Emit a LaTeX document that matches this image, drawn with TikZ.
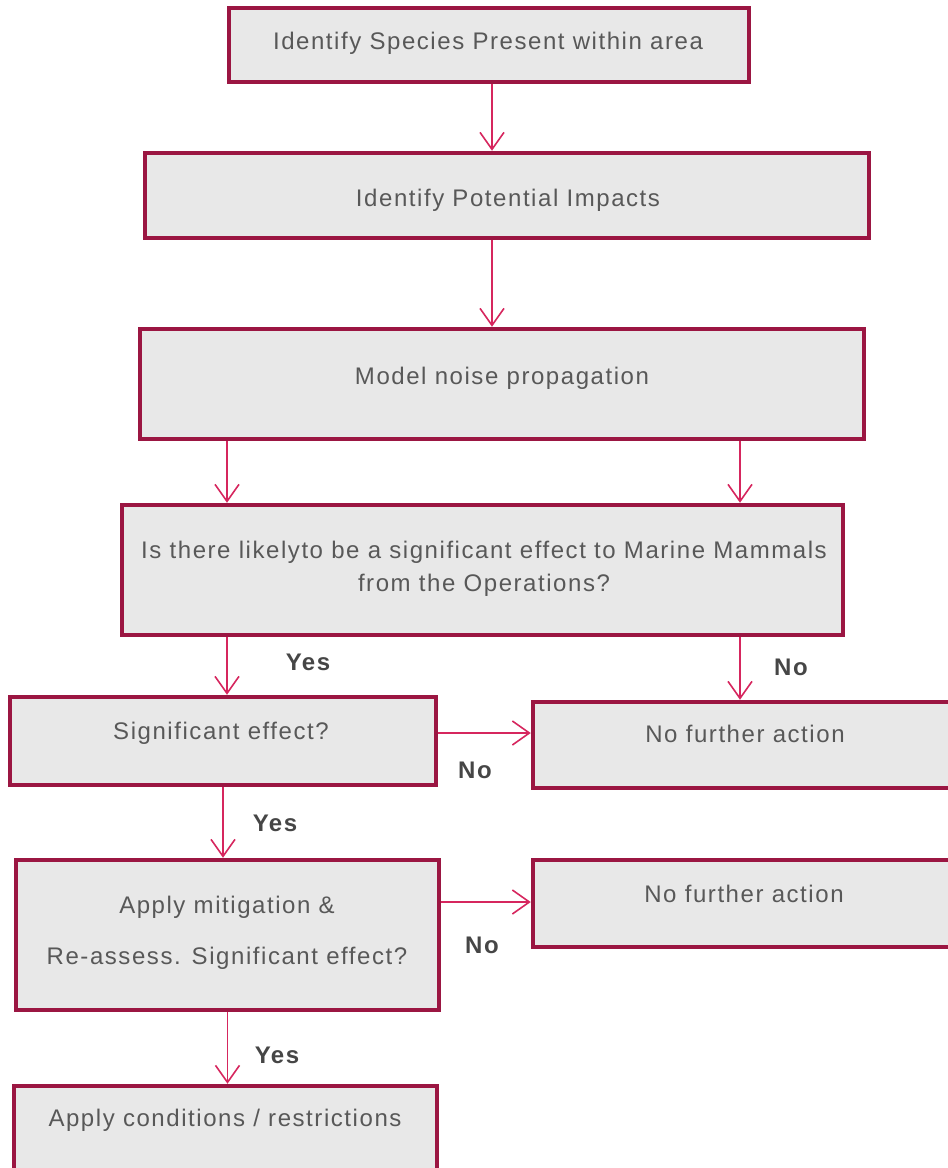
\documentclass[tikz,border=0pt]{standalone}
\usepackage{fontspec}
\setmainfont[LetterSpace=6.5]{Liberation Sans}
\usepackage{xcolor}
\usepackage{tikz}
\usetikzlibrary{arrows.meta,positioning}

\definecolor{boxedge}{RGB}{155,22,66}
\definecolor{flowline}{RGB}{214,38,94}
\definecolor{boxfill}{RGB}{232,232,232}
\definecolor{boxtext}{RGB}{88,88,88}
\definecolor{lbltext}{RGB}{70,70,70}

\begin{document}
\begin{tikzpicture}[x=1pt, y=-1pt,
        box/.style={draw=boxedge, fill=boxfill, line width=4.5pt, rectangle, inner sep=0pt},
        txt/.style={text=boxtext, font=\fontsize{24}{33}\selectfont, align=center, inner sep=0pt},
        lbl/.style={text=lbltext, font=\fontsize{24}{28}\selectfont\bfseries, inner sep=0pt},
        flow/.style={draw=flowline, line width=1.6pt, ->},
        >={Straight Barb[length=17pt, width=24pt]}
    ]
        \useasboundingbox (0,0) rectangle (948,1168);
        \clip (0,0) rectangle (948,1168);

        % boxes
        \node[box, minimum width=520pt, minimum height=74pt]  (species)  at (489,45) {};
        \node[box, minimum width=724pt, minimum height=85pt]  (impacts)  at (507,195.5) {};
        \node[box, minimum width=724pt, minimum height=110pt] (model)    at (502,384) {};
        \node[box, minimum width=721pt, minimum height=130pt] (question) at (482.5,570) {};
        \node[box, minimum width=426pt, minimum height=88pt]  (signif)   at (223,741) {};
        \node[box, minimum width=437pt, minimum height=86pt]  (nfaone)   at (751.5,745) {};
        \node[box, minimum width=423pt, minimum height=150pt] (mitig)    at (227.5,935) {};
        \node[box, minimum width=437pt, minimum height=87pt]  (nfatwo)   at (751.5,903.5) {};
        \node[box, minimum width=423pt, minimum height=114pt] (cond)     at (225.5,1143) {};

        % texts
        \node[txt] (speciestxt)  at (488,43)  {Identify Species Present within area};
        \node[txt] (impactstxt)  at (508,200) {Identify Potential Impacts};
        \node[txt] (modeltxt)    at (502,378) {Model noise propagation};
        \node[txt] (questiontxt) at (484,568.5) {Is there likelyto be a significant effect to Marine Mammals\\from the Operations?};
        \node[txt] (signiftxt)   at (221,733) {Significant effect?};
        \node[txt] (nfaonetxt)   at (745,734) {No further action};
        \node[txt] (mitigtxt)    at (227,932.5) {Apply mitigation \&\\[18pt]Re-assess. Significant effect?};
        \node[txt] (nfatwotxt)   at (744,894) {No further action};
        \node[txt] (condtxt)     at (225,1120) {Apply conditions / restrictions};

        % columns and rows of the connectors
        \coordinate (mid)  at (492,0);
        \coordinate (lcol) at (227,0);
        \coordinate (rcol) at (740,0);
        \coordinate (rowa) at (0,733);
        \coordinate (rowb) at (0,902);

        \draw[flow] (species.south -| mid) -- (impacts.north -| mid);
        \draw[flow] (impacts.south -| mid) -- (model.north -| mid);
        \draw[flow] (model.south -| lcol) -- (question.north -| lcol);
        \draw[flow] (model.south -| rcol) -- (question.north -| rcol);
        \draw[flow] (question.south -| lcol) -- (signif.north -| lcol);
        \draw[flow] (question.south -| rcol) -- (nfaone.north -| rcol);
        \draw[flow] (signif.east |- rowa) -- (nfaone.west |- rowa);
        \draw[flow] (signif.south) -- (signif.south |- mitig.north);
        \draw[flow] (mitig.east |- rowb) -- (nfatwo.west |- rowb);
        \draw[flow] (mitig.south) -- (mitig.south |- cond.north);

        % branch labels
        \node[lbl] (yesa) at (308,662)  {Yes};
        \node[lbl] (noa)  at (791,667)  {No};
        \node[lbl] (nob)  at (475,770)  {No};
        \node[lbl] (yesb) at (275,823)  {Yes};
        \node[lbl] (noc)  at (482,945)  {No};
        \node[lbl] (yesc) at (277,1055) {Yes};
    \end{tikzpicture}
\end{document}
